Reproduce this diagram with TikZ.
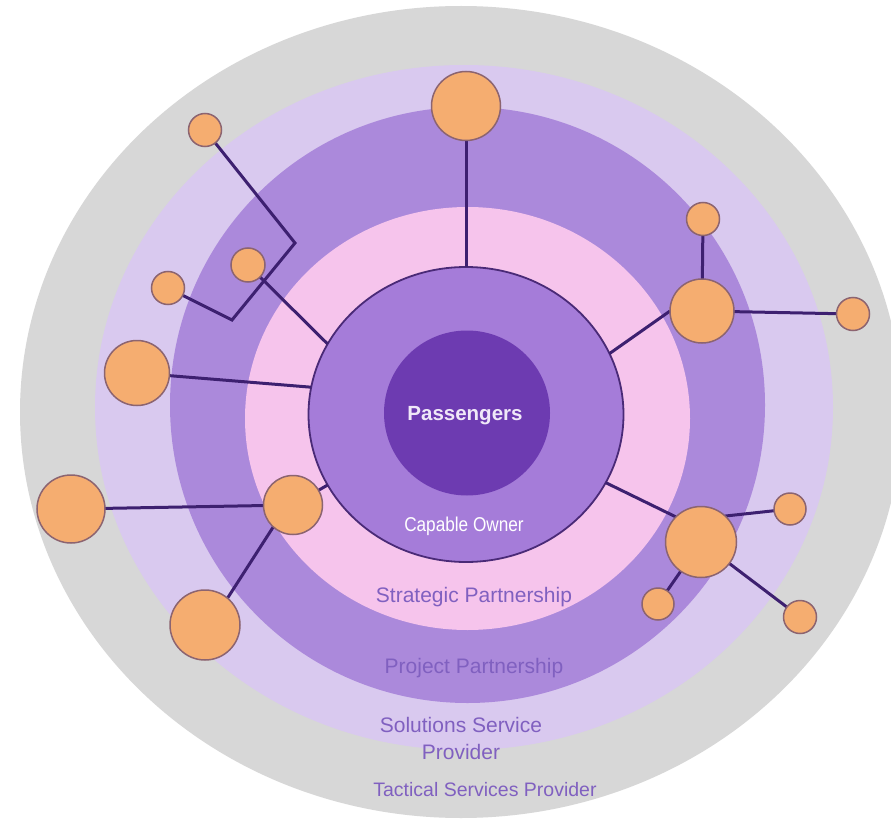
\documentclass[tikz,border=0pt]{standalone}
\usepackage{fontspec}
\setmainfont{Liberation Sans}
\usetikzlibrary{shapes.geometric}

\definecolor{tacticalc}{HTML}{D7D7D7}
\definecolor{solutionc}{HTML}{D9C9EF}
\definecolor{projectc}{HTML}{AB89DB}
\definecolor{strategicc}{HTML}{F6C4EC}
\definecolor{capablec}{HTML}{A57CD9}
\definecolor{capedge}{HTML}{4A2A77}
\definecolor{passc}{HTML}{6D3BB1}
\definecolor{hubfill}{HTML}{F5AD70}
\definecolor{hubedge}{HTML}{8C6470}
\definecolor{linkc}{HTML}{3D2070}
\definecolor{labelc}{HTML}{8060C0}
\definecolor{passtext}{HTML}{F0E8F8}

\pgfdeclarelayer{rings}
\pgfdeclarelayer{links}
\pgfsetlayers{rings,links,main}

\tikzset{
  ring/.style={ellipse, inner sep=0pt, outer sep=0pt, draw=none},
  hub/.style={circle, inner sep=0pt, outer sep=0pt, fill=hubfill, draw=hubedge, line width=1.5pt, minimum size=#1},
  link/.style={draw=linkc, line width=3pt},
  ringlabel/.style={text=labelc, font=\fontsize{21}{27}\selectfont, align=center}
}

\begin{document}
\begin{tikzpicture}[x=1pt,y=-1pt]
\useasboundingbox (0,0) rectangle (891,821);
\clip (0,0) rectangle (891,821);

% white page and concentric partnership rings
\begin{pgfonlayer}{rings}
\fill[white] (0,0) rectangle (891,821);
\node[ring, fill=tacticalc, minimum width=882pt, minimum height=812pt] (tactical) at (461,412) {};
\node[ring, fill=solutionc, minimum width=738pt, minimum height=685pt] (solutions) at (464,407.5) {};
\node[ring, fill=projectc, minimum width=595pt, minimum height=596pt] (project) at (467.5,405) {};
\node[ring, fill=strategicc, minimum width=445pt, minimum height=423pt] (strategic) at (467.5,418.5) {};
\node[ring, fill=capablec, draw=capedge, line width=1.8pt, minimum width=315pt, minimum height=295pt] (cap) at (466,414.5) {};
\node[ring, fill=passc, minimum width=166pt, minimum height=165pt] (pass) at (467,413) {};
\end{pgfonlayer}

% ring labels
\node[text=passtext, font=\fontsize{20.5}{24}\selectfont\bfseries] (passl) at (465,416) {Passengers};
\node[text=white, font=\fontsize{20}{24}\selectfont] (capl) at (464,526) {\scalebox{0.86}[1]{Capable Owner}};
\node[ringlabel] (stratl) at (474,597) {Strategic Partnership};
\node[ringlabel] (projl) at (474,668) {Project Partnership};
\node[ringlabel] (soll) at (461,738) {Solutions Service\\Provider};
\node[ringlabel, font=\fontsize{19.5}{24}\selectfont] (tacl) at (485,790) {Tactical Services Provider};

% partner nodes
\node[hub=69pt] (T) at (466,106) {};
\node[hub=33pt] (A) at (205,130) {};
\node[hub=33pt] (B) at (168,288) {};
\node[hub=34pt] (SM) at (248,265) {};
\node[hub=65pt] (L1) at (137,373) {};
\node[hub=68pt] (FL) at (71,509) {};
\node[hub=59pt] (ML) at (293,505) {};
\node[hub=70pt] (BL) at (205,625) {};
\node[hub=64pt] (R1) at (702,311) {};
\node[hub=33pt] (R1t) at (703,219) {};
\node[hub=33pt] (R1r) at (853,314) {};
\node[hub=71pt] (R2) at (701,542) {};
\node[hub=32pt] (R2a) at (790,509) {};
\node[hub=33pt] (R2b) at (800,617) {};
\node[hub=32pt] (R2c) at (658,604) {};

\coordinate (k1) at (295,243);
\coordinate (k2) at (232,320);

% connectors
\begin{pgfonlayer}{links}
\draw[link] (T) -- (cap.north);
\draw[link] (A) -- (k1) -- (k2) -- (B);
\draw[link] (SM) -- (cap.153);
\draw[link] (L1) -- (cap.170);
\draw[link] (FL) -- (ML);
\draw[link] (ML) -- (cap.207);
\draw[link] (BL.50) -- (ML.228);
\draw[link] (R1.west) -- (cap.23);
\draw[link] (R1) -- (R1t);
\draw[link] (R1) -- (R1r);
\draw[link] (R2.135) -- (cap.334);
\draw[link] (R2.47) -- (R2a);
\draw[link] (R2) -- (R2b);
\draw[link] (R2) -- (R2c);
\end{pgfonlayer}
\end{tikzpicture}
\end{document}
